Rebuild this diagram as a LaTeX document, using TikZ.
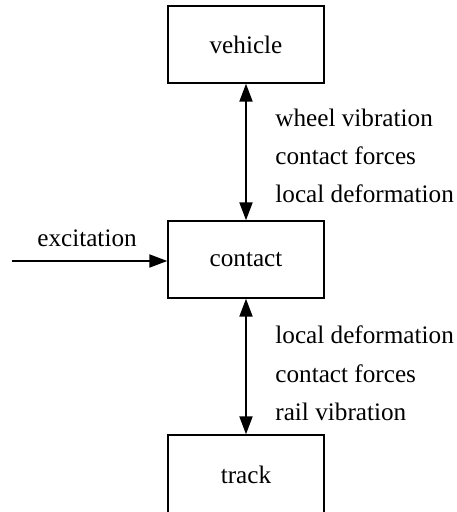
\documentclass[tikz,border=0pt]{standalone}
\usepackage{fontspec}
\setmainfont{Liberation Serif}
\usetikzlibrary{arrows.meta}

\tikzset{
	block/.style={draw, line width=0.7pt, minimum width=78pt, minimum height=38.5pt, inner sep=0pt},
	tip/.style={Triangle[length=9pt,width=6.5pt]},
	link/.style={line width=1pt, {Triangle[length=9pt,width=6.5pt]}-{Triangle[length=9pt,width=6.5pt]}},
	feed/.style={line width=1pt, -{Triangle[length=9pt,width=6.5pt]}},
	lbl/.style={anchor=base west, inner sep=0pt}
}

\begin{document}
\begin{tikzpicture}[x=0.5pt, y=-0.5pt, font=\fontsize{12.6}{15}\selectfont]
	\clip (0,0) rectangle (456,512);

	\node[block] (vehicle) at (246,44.5) {vehicle};
	\node[block] (contact) at (246,259.5) {contact};
	\node[block, minimum height=40pt] (track) at (246,475) {track};

	\coordinate (exc) at (12,261);
	\node[anchor=base, inner sep=0pt] (exclbl) at (87,247) {excitation};

	\draw[link] (vehicle) -- (contact);
	\draw[link] (contact) -- (track);
	\draw[feed] (exc) -- (exc -| contact.west);

	\node[lbl] (up1) at (275,127) {wheel vibration};
	\node[lbl] (up2) at (275,165) {contact forces};
	\node[lbl] (up3) at (275,203) {local deformation};

	\node[lbl] (dn1) at (275,343) {local deformation};
	\node[lbl] (dn2) at (275,382) {contact forces};
	\node[lbl] (dn3) at (275,420) {rail vibration};
\end{tikzpicture}
\end{document}
